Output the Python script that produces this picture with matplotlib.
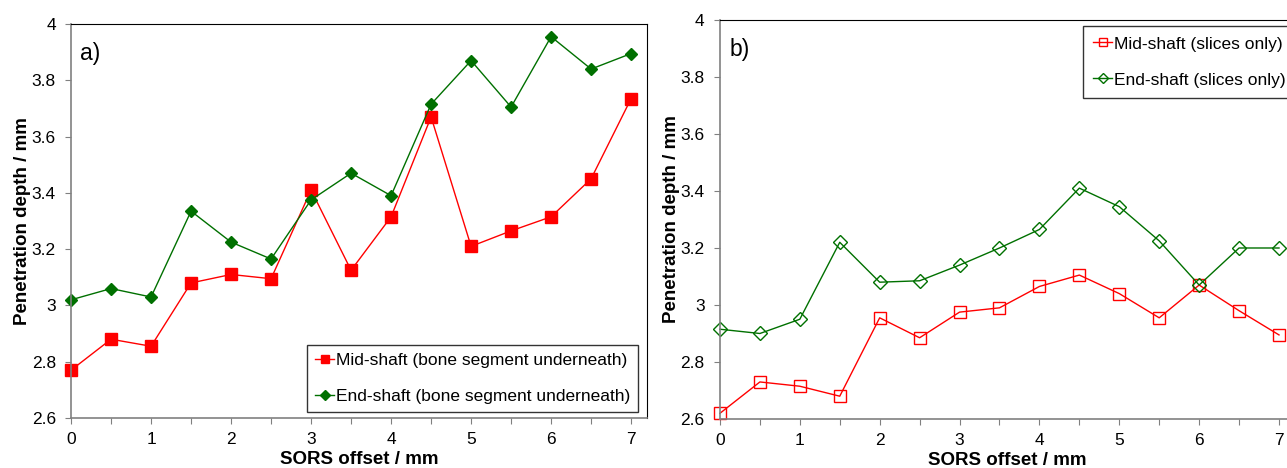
import matplotlib.pyplot as plt
from matplotlib.ticker import MultipleLocator, FixedLocator

plt.rcParams['font.family'] = ['Liberation Sans', 'DejaVu Sans']

offset = [0, 0.5, 1, 1.5, 2, 2.5, 3, 3.5, 4, 4.5, 5, 5.5, 6, 6.5, 7]

mid_bone = [2.77, 2.88, 2.855, 3.08, 3.11, 3.095, 3.41, 3.125, 3.315, 3.67,
            3.21, 3.265, 3.315, 3.45, 3.735]
end_bone = [3.02, 3.06, 3.03, 3.335, 3.225, 3.165, 3.375, 3.47, 3.39, 3.715,
            3.87, 3.705, 3.955, 3.84, 3.895]

mid_slices = [2.62, 2.73, 2.715, 2.68, 2.955, 2.885, 2.975, 2.99, 3.065, 3.105,
              3.04, 2.955, 3.07, 2.98, 2.895]
end_slices = [2.915, 2.90, 2.95, 3.22, 3.08, 3.085, 3.14, 3.20, 3.265, 3.41,
              3.345, 3.225, 3.07, 3.20, 3.20]

yticks = [2.6, 2.8, 3.0, 3.2, 3.4, 3.6, 3.8, 4.0]
ytick_labels = ['2.6', '2.8', '3', '3.2', '3.4', '3.6', '3.8', '4']

red = '#ff0000'
green = '#007000'

fig = plt.figure(figsize=(12.87, 4.68), dpi=100)
ax1 = fig.add_axes([0.0552, 0.1068, 0.4476, 0.8419])
ax2 = fig.add_axes([0.5594, 0.1047, 0.4468, 0.8526])


def style(ax, label):
    ax.set_xlim(0, 7.2)
    ax.set_ylim(2.6, 4)
    ax.xaxis.set_major_locator(FixedLocator(range(8)))
    ax.xaxis.set_minor_locator(MultipleLocator(0.5))
    ax.set_yticks(yticks)
    ax.set_yticklabels(ytick_labels)
    ax.tick_params(axis='x', direction='out', length=4, width=0.8,
                   color='#808080', labelsize=12.5, pad=6)
    ax.tick_params(axis='y', direction='out', length=4, width=0.8,
                   color='#808080', labelsize=12.5, pad=7)
    ax.tick_params(which='minor', direction='out', length=4, width=0.8,
                   color='#808080')
    for s in ['left', 'bottom']:
        ax.spines[s].set_color('#808080')
        ax.spines[s].set_linewidth(1.2)
    for s in ['top', 'right']:
        ax.spines[s].set_color('black')
        ax.spines[s].set_linewidth(0.8)
    ax.set_xlabel('SORS offset / mm', fontsize=13.5, fontweight='bold',
                  labelpad=3)
    ax.set_ylabel('Penetration depth / mm', fontsize=13.5, fontweight='bold',
                  labelpad=0.5)
    ax.text(0.016, 0.955, label, transform=ax.transAxes, fontsize=16.5,
            va='top', ha='left')


ax1.plot(offset, mid_bone, color=red, marker='s', markersize=8, lw=1.0,
         clip_on=False, label='Mid-shaft (bone segment underneath)')
ax1.plot(offset, end_bone, color=green, marker='D', markersize=6.5, lw=1.0,
         clip_on=False, label='End-shaft (bone segment underneath)')
style(ax1, 'a)')
leg1 = ax1.legend(loc='lower right', bbox_to_anchor=(0.984, 0.015),
                  borderaxespad=0, fontsize=12.5, frameon=True, fancybox=False,
                  edgecolor='black', handlelength=1.1, handletextpad=0.1,
                  labelspacing=1.2, borderpad=0.45, markerscale=0.75)
leg1.get_frame().set_linewidth(1.0)

ax2.plot(offset, mid_slices, color=red, marker='s', markersize=8, lw=1.0,
         markerfacecolor='none', clip_on=False, label='Mid-shaft (slices only)')
ax2.plot(offset, end_slices, color=green, marker='D', markersize=7, lw=1.0,
         markerfacecolor='none', clip_on=False, label='End-shaft (slices only)')
style(ax2, 'b)')
leg2 = ax2.legend(loc='upper right', bbox_to_anchor=(1.002, 0.985),
                  borderaxespad=0, fontsize=12.5, frameon=True, fancybox=False,
                  edgecolor='black', handlelength=1.1, handletextpad=0.1,
                  labelspacing=1.2, borderpad=0.6, markerscale=0.75)
leg2.get_frame().set_linewidth(1.0)

fig.savefig('out.png', dpi=100)
